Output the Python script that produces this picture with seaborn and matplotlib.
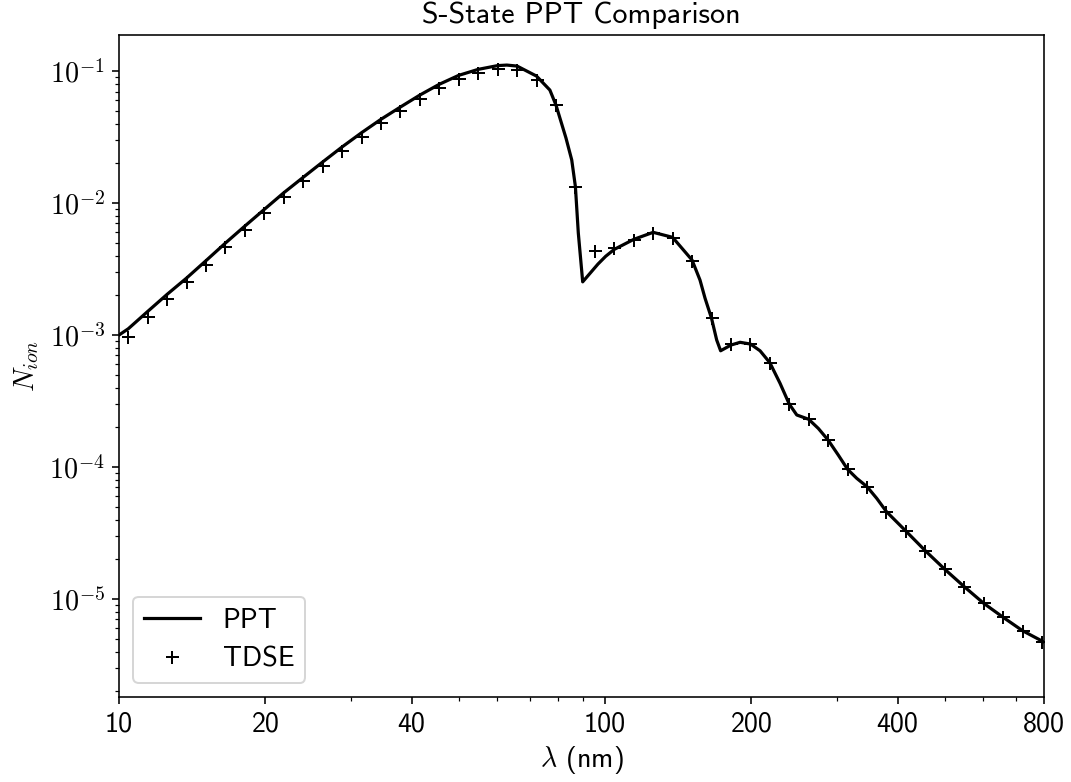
import math
import matplotlib
matplotlib.use("Agg")
import matplotlib.pyplot as plt
from matplotlib.ticker import FuncFormatter, NullFormatter, LogLocator
import seaborn as sns

# ---------------- data ----------------
ppt_wavelength = [10.0, 10.45, 11.46, 12.56, 13.77, 15.10, 16.56, 18.16, 19.91, 21.83,
                  23.93, 26.24, 28.77, 31.55, 34.59, 37.93, 41.59, 45.60, 50.00, 54.83,
                  60.12, 62.8, 65.92, 72.28, 77.0, 79.25, 83.1, 85.4, 86.90, 88.1,
                  89.95, 96.7, 100.3, 104.5, 114.6, 125.6, 137.7, 151.0, 156.8, 160.6, 165.6,
                  169.7, 172.9, 181.6, 189.6, 199.1, 208.4, 218.3, 229.1, 239.3, 248.0,
                  262.4, 274.7, 287.7, 302.0, 315.5, 329.5, 345.9, 362.2, 379.3, 415.9,
                  456.0, 500.0, 548.3, 601.2, 659.2, 722.8, 800.0]
ppt_nion = [1.0e-3, 1.116e-3, 1.511e-3, 2.034e-3, 2.70e-3, 3.66e-3, 4.98e-3, 6.70e-3, 8.96e-3, 1.197e-2,
            1.566e-2, 2.046e-2, 2.66e-2, 3.41e-2, 4.31e-2, 5.34e-2, 6.58e-2, 7.94e-2, 9.28e-2, 0.1030,
            0.1100, 0.1110, 0.1091, 9.16e-2, 7.18e-2, 5.53e-2, 3.11e-2, 2.12e-2, 1.33e-2, 5.93e-3,
            2.53e-3, 3.45e-3, 3.95e-3, 4.46e-3, 5.31e-3, 6.0e-3, 5.5e-3, 3.70e-3, 2.61e-3, 1.90e-3, 1.34e-3,
            9.17e-4, 7.6e-4, 8.4e-4, 8.81e-4, 8.55e-4, 7.6e-4, 6.17e-4, 4.31e-4, 3.0e-4, 2.48e-4,
            2.30e-4, 1.96e-4, 1.60e-4, 1.23e-4, 9.61e-5, 8.21e-5, 7.1e-5, 5.79e-5, 4.59e-5, 3.27e-5,
            2.32e-5, 1.68e-5, 1.24e-5, 9.28e-6, 7.27e-6, 5.75e-6, 4.72e-6]

tdse_wavelength = [10.45, 11.46, 12.56, 13.77, 15.10, 16.56, 18.16, 19.91, 21.83, 23.93,
                   26.24, 28.77, 31.55, 34.59, 37.93, 41.59, 45.60, 50.00, 54.83, 60.12,
                   65.92, 72.28, 79.25, 86.90, 95.28, 104.5, 114.6, 125.6, 137.7, 151.0,
                   165.6, 181.6, 199.1, 218.3, 239.3, 262.4, 287.7, 315.5, 345.9, 379.3,
                   415.9, 456.0, 500.0, 548.3, 601.2, 659.2, 722.8, 792.5]
tdse_nion = [9.71e-4, 1.36e-3, 1.865e-3, 2.52e-3, 3.41e-3, 4.64e-3, 6.25e-3, 8.35e-3, 1.116e-2, 1.46e-2,
             1.907e-2, 2.48e-2, 3.17e-2, 4.02e-2, 4.98e-2, 6.14e-2, 7.4e-2, 8.65e-2, 9.61e-2, 0.1030,
             0.1018, 8.55e-2, 5.53e-2, 1.33e-2, 4.33e-3, 4.59e-3, 5.24e-3, 5.9e-3, 5.4e-3, 3.66e-3,
             1.345e-3, 8.55e-4, 8.55e-4, 6.17e-4, 3.0e-4, 2.30e-4, 1.60e-4, 9.61e-5, 7.1e-5, 4.59e-5,
             3.27e-5, 2.32e-5, 1.68e-5, 1.24e-5, 9.28e-6, 7.27e-6, 5.75e-6, 4.75e-6]

x_ticks = [10, 20, 40, 100, 200, 400, 800]
x_ticklabels = ["10", "20", "40", "100", "200", "400", "800"]

title = "S-State PPT Comparison"
x_label = r"$\lambda$ (nm)"
y_label = r"$N_{ion}$"

# ---------------- style ----------------
plt.rcParams["font.family"] = ["cmss10", "DejaVu Sans"]
plt.rcParams["mathtext.fontset"] = "cm"
plt.rcParams["axes.unicode_minus"] = False
plt.rcParams["font.size"] = 14

DPI = 144
fig, ax = plt.subplots(figsize=(1071 / DPI, 782 / DPI), dpi=DPI)
fig.subplots_adjust(left=119 / 1071, right=1044 / 1071, top=1 - 35 / 782, bottom=1 - 697 / 782)

sns.lineplot(x=ppt_wavelength, y=ppt_nion, color="k", linewidth=1.6, label="PPT", ax=ax)
sns.lineplot(x=tdse_wavelength, y=tdse_nion, color="k", linestyle="none", marker="+",
             markersize=6.5, markeredgewidth=1.0, markeredgecolor="k", label="TDSE", ax=ax)

ax.set_xscale("log")
ax.set_yscale("log")
ax.set_xlim(10, 800)
ax.set_ylim(1.81e-6, 0.1876)

ax.set_xticks(x_ticks)
ax.set_xticklabels(x_ticklabels)
ax.xaxis.set_minor_locator(LogLocator(base=10, subs=range(2, 10)))
ax.xaxis.set_minor_formatter(NullFormatter())
ax.yaxis.set_major_formatter(FuncFormatter(lambda v, p: r"$10^{%d}$" % round(math.log10(v))))
ax.yaxis.set_minor_formatter(NullFormatter())

ax.set_title(title, fontsize=15)
ax.set_xlabel(x_label, fontsize=14)
ax.set_ylabel(y_label, fontsize=14)
ax.legend(loc="lower left", fontsize=14)

fig.savefig("out.png", dpi=DPI)
